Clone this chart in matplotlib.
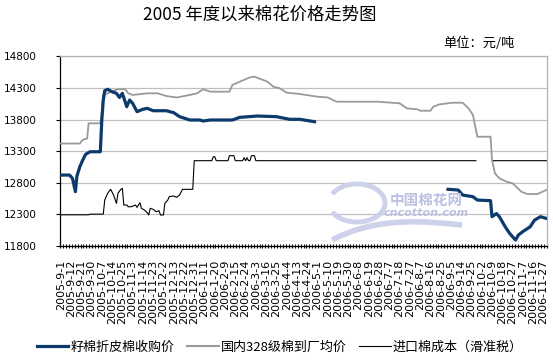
import matplotlib
matplotlib.use('Agg')
import matplotlib.pyplot as plt
import numpy as np
from matplotlib.lines import Line2D
from matplotlib.patches import Arc, PathPatch
from matplotlib.path import Path

# ---------------- data ----------------
date_labels = [
    "2005-9-1", "2005-9-12", "2005-9-21", "2005-9-30", "2005-10-7", "2005-10-14",
    "2005-10-25", "2005-11-3", "2005-11-14", "2005-11-23", "2005-12-2", "2005-12-13",
    "2005-12-22", "2005-12-31", "2006-1-11", "2006-1-20", "2006-2-9", "2006-2-15",
    "2006-2-24", "2006-3-3", "2006-3-16", "2006-3-25", "2006-4-4", "2006-4-13",
    "2006-4-24", "2006-5-1", "2006-5-10", "2006-5-19", "2006-5-30", "2006-6-8",
    "2006-6-19", "2006-6-28", "2006-7-7", "2006-7-18", "2006-7-27", "2006-8-7",
    "2006-8-16", "2006-8-25", "2006-9-5", "2006-9-14", "2006-9-25", "2006-10-2",
    "2006-10-9", "2006-10-18", "2006-10-27", "2006-11-7", "2006-11-16", "2006-11-27",
]
n_days = 332
label_every = 7

# 籽棉折皮棉收购价 (day index, price); NaN marks the gap in the series
seed_idx = [0, 6, 8, 10, 11, 13, 15, 17, 20, 27, 28, 29, 30, 32, 35, 38, 40, 42, 45, 47,
            49, 52, 56, 59, 63, 72, 77, 81, 88, 95, 97, 102, 117, 122, 134, 147, 156, 163,
            173, 200,
            264, 271, 274, 281, 284, 293, 294, 297, 299, 303, 306, 310, 312, 315, 320, 323,
            327, 331]
seed_val = [12920, 12920, 12868, 12656, 12900, 13052, 13158, 13250, 13290, 13290, 13793,
            14110, 14258, 14280, 14240, 14216, 14150, 14216, 14004, 14110, 14058, 13925,
            13963, 13978, 13940, 13940, 13909, 13846, 13793, 13793, 13777, 13793, 13793,
            13835, 13856, 13846, 13804, 13804, 13766, np.nan,
            12694, 12683, 12603, 12577, 12524, 12514, 12260, 12310, 12260, 12100, 11996,
            11890, 11970, 12024, 12100, 12206, 12260, 12233]

# 国内328级棉到厂均价
lint_idx = [0, 13, 15, 18, 19, 27, 28, 29, 32, 36, 39, 44, 46, 49, 59, 66, 72, 79, 88, 93,
            97, 102, 115, 117, 122, 129, 132, 141, 145, 149, 154, 163, 175, 182, 188, 216,
            231, 236, 243, 245, 252, 254, 258, 267, 274, 278, 281, 284, 293, 294, 296, 299,
            304, 308, 314, 318, 325, 331]
lint_val = [13420, 13420, 13480, 13500, 13740, 13740, 13900, 14190, 14216, 14258, 14280,
            14280, 14216, 14190, 14216, 14216, 14173, 14150, 14190, 14216, 14280, 14242,
            14242, 14348, 14400, 14470, 14480, 14400, 14320, 14300, 14226, 14205, 14162,
            14150, 14083, 14083, 14058, 13978, 13963, 13940, 13940, 14004, 14040, 14067,
            14067, 13978, 13872, 13528, 13528, 13158, 12948, 12868, 12815, 12790, 12656,
            12620, 12620, 12683]

# 进口棉成本（滑准税）
imp_idx = [0, 19, 20, 29, 30, 32, 34, 36, 38, 39, 41, 42, 43, 45, 46, 48, 51, 52, 54, 55,
           57, 59, 60, 61, 63, 65, 67, 68, 70, 71, 73, 74, 77, 79, 81, 83, 90, 91, 103,
           104, 105, 106, 114, 115, 118, 119, 124, 125, 126, 127, 128, 129, 130, 132, 133,
           283, 289, 295, 331]
imp_val = [12290, 12290, 12300, 12300, 12525, 12631, 12694, 12604, 12472, 12631, 12694,
           12710, 12445, 12445, 12418, 12418, 12445, 12408, 12482, 12393, 12366, 12324,
           12287, 12393, 12377, 12340, 12355, 12287, 12287, 12472, 12525, 12578, 12588,
           12567, 12604, 12694, 12694, 13148, 13148, 13211, 13211, 13148, 13148, 13227,
           13227, 13148, 13148, 13195, 13148, 13195, 13148, 13148, 13227, 13227, 13148,
           13148, np.nan, 13148, 13148]

y_ticks = [11800, 12300, 12800, 13300, 13800, 14300, 14800]

title = "2005 年度以来棉花价格走势图"
unit = "单位：元/吨"
series_names = ["籽棉折皮棉收购价", "国内328级棉到厂均价", "进口棉成本（滑准税）"]

# ---------------- style ----------------
CJK = ['Noto Sans CJK SC', 'DejaVu Sans']
plt.rcParams['font.family'] = ['DejaVu Sans']
navy = '#0c3a6c'
gray = '#9a9a9a'

fig = plt.figure(figsize=(5.53, 3.63), dpi=100)
ax = fig.add_axes([0.1085, 0.3231, 0.8807, 0.5213])

ax.plot(lint_idx, lint_val, color=gray, lw=1.3, zorder=3, solid_joinstyle='miter')
ax.plot(imp_idx, imp_val, color='black', lw=0.8, zorder=3)
ax.plot(seed_idx, seed_val, color=navy, lw=2.3, zorder=4, solid_joinstyle='round')

ax.set_xlim(-0.5, n_days - 0.5)
ax.set_ylim(y_ticks[0], y_ticks[-1])
ax.set_yticks(y_ticks)
ax.set_yticklabels([str(v) for v in y_ticks], fontsize=7.5)
ax.yaxis.grid(True, color='#c0c0c0', lw=0.9)
ax.set_axisbelow(True)

pos = [i * label_every for i in range(len(date_labels))]
ax.set_xticks(pos)
ax.set_xticklabels(date_labels, rotation=90, fontsize=8, ha='center', va='top')
ax.set_xticks(np.arange(-0.5, n_days, 2), minor=True)
ax.tick_params(axis='x', which='major', length=0, pad=10)
ax.tick_params(axis='x', which='minor', length=3, width=0.8, direction='inout')
ax.tick_params(axis='y', length=3, width=0.8, pad=14, direction='out')

ax.spines['left'].set_color('black')
ax.spines['bottom'].set_color('black')
ax.spines['top'].set_color('#b0b0b0')
ax.spines['right'].set_color('#b0b0b0')
for s in ax.spines.values():
    s.set_linewidth(0.9)

fig.text(0.470, 0.9587, title, ha='center', va='center', fontsize=12.5, family=CJK)
fig.text(0.931, 0.8815, unit, ha='right', va='center', fontsize=9.5, family=CJK)

# watermark
wm = '#cdd1ea'
ax_wm = fig.add_axes([0, 0, 1, 1], zorder=1)
ax_wm.set_xlim(0, 553); ax_wm.set_ylim(363, 0); ax_wm.axis('off')
ax_wm.patch.set_alpha(0)
ax_wm.add_patch(Arc((357, 203), 56, 38, theta1=200, theta2=160, color=wm, lw=3.5))
tail = Path([(332, 240), (380, 215), (430, 222), (462, 225)],
            [Path.MOVETO, Path.CURVE4, Path.CURVE4, Path.CURVE4])
ax_wm.add_patch(PathPatch(tail, fill=False, color=wm, lw=4))
ax_wm.text(426, 200, "中国棉花网", ha='center', va='center', fontsize=10.5,
           family=CJK, color='#bcc1e2', fontweight='bold')
ax_wm.text(426, 213, "cncotton.com", ha='center', va='center', fontsize=8,
           color='#bcc1e2', fontweight='bold', style='italic')

handles = [Line2D([], [], color=navy, lw=2.3),
           Line2D([], [], color=gray, lw=1.5),
           Line2D([], [], color='black', lw=0.8)]
fig.legend(handles, series_names, loc='center', bbox_to_anchor=(0.506, 0.044), ncol=3,
           frameon=False, prop={'family': CJK, 'size': 9.4}, handlelength=2.4,
           handletextpad=0.15, columnspacing=1.0)

fig.savefig('out.png', dpi=100)
